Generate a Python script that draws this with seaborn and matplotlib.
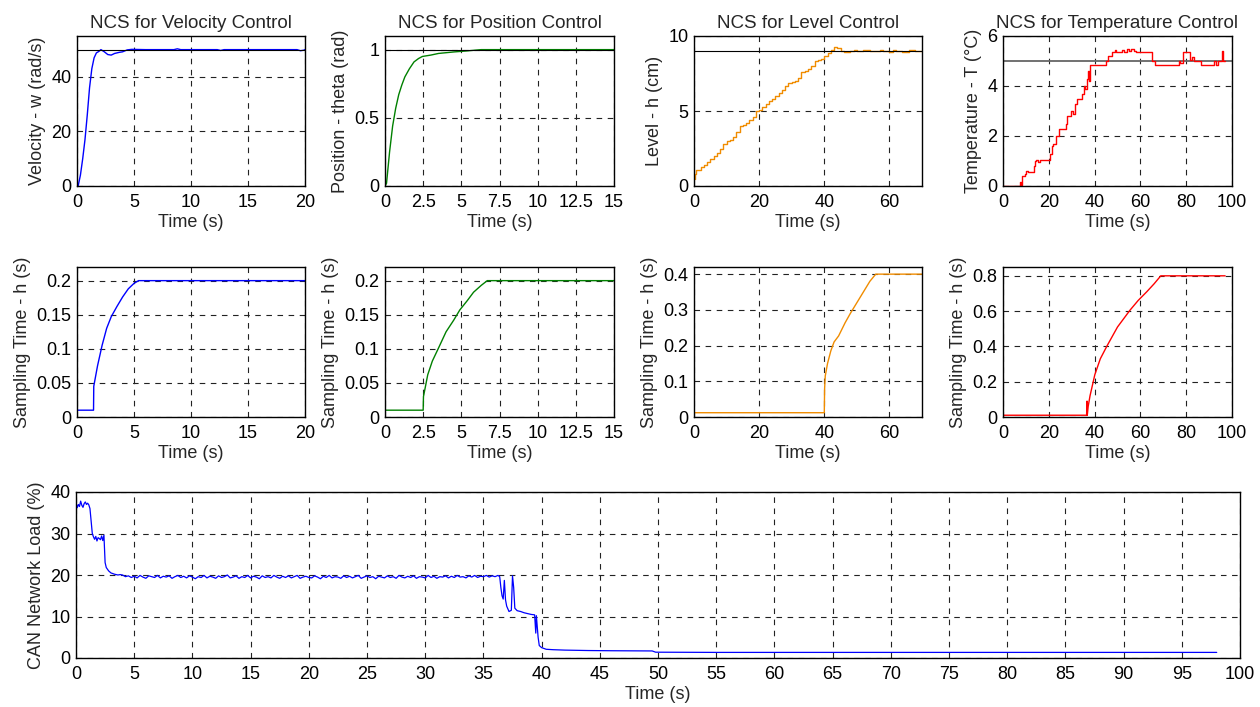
import numpy as np
import matplotlib
matplotlib.use("Agg")
import matplotlib.pyplot as plt
import seaborn as sns

# ---- velocity control ----
vel_t = [0, 0.1, 0.3, 0.5, 0.7, 0.9, 1.1, 1.3, 1.5, 1.7, 1.9, 2.1, 2.4, 2.7, 3.0, 3.3,
         3.7, 4.0, 4.4, 4.8, 6.0, 8.5, 8.8, 9.1, 10.0, 12.3, 12.6, 12.9, 15.0, 17.0,
         19.3, 19.6, 19.9, 20.0]
vel_w = [0, 0, 4, 10, 17, 26, 36, 43, 47, 48.8, 49.3, 50, 49.2, 48.2, 48.0, 48.6,
         49.0, 49.2, 49.9, 50.1, 50, 50, 50.3, 50, 50, 50, 49.7, 50, 50, 50,
         50, 49.6, 49.8, 50]
vel_h_t = [0, 1.45, 1.47, 1.8, 2.2, 2.6, 3.0, 3.5, 4.0, 4.5, 5.0, 5.4, 20]
vel_h = [0.01, 0.01, 0.045, 0.075, 0.105, 0.13, 0.147, 0.162, 0.176, 0.188, 0.196, 0.2, 0.2]

# ---- position control ----
pos_t = [0, 0.1, 0.3, 0.5, 0.7, 0.9, 1.1, 1.3, 1.6, 1.9, 2.2, 2.45, 3.0, 3.5, 4.5, 5.3, 6.3, 15]
pos_th = [0, 0.02, 0.25, 0.44, 0.57, 0.67, 0.74, 0.8, 0.86, 0.91, 0.935, 0.95, 0.96,
          0.972, 0.983, 0.99, 1.0, 1.0]
pos_h_t = [0, 2.5, 2.52, 2.8, 3.1, 3.46, 4.0, 4.5, 4.9, 5.4, 5.8, 6.3, 6.7, 15]
pos_h = [0.01, 0.01, 0.03, 0.062, 0.082, 0.099, 0.125, 0.142, 0.157, 0.171, 0.183, 0.193, 0.2, 0.2]

# ---- level control ----
lvl_t = [0, 0.3, 0.6, 1, 2] + list(range(3, 43)) + [43, 44, 45, 46, 48, 49, 50, 52, 53, 54,
                                                       56, 57, 58, 60, 61, 62, 64, 66, 67, 68, 70]
lvl_h = [0.5, 0.8, 1.1, 1.1, 1.3,
         1.4, 1.6, 1.8, 2.0, 2.2, 2.5, 2.8, 3.0, 3.1, 3.3, 3.6, 4.0, 4.1, 4.2, 4.4, 4.6,
         5.0, 5.05, 5.3, 5.5, 5.7, 5.8, 6.0, 6.2, 6.4, 6.7, 6.9, 6.95, 7.0, 7.2, 7.6, 7.7,
         7.8, 8.0, 8.3, 8.4, 8.5, 8.7, 8.9, 9.1,
         9.3, 9.2, 9.0, 8.95, 9.0, 9.1, 9.0, 9.05, 9.1, 9.0, 9.0, 9.1, 9.0, 8.95, 9.1, 9.0,
         8.95, 9.05, 9.1, 9.0, 9.0]
lvl_s_t = [0, 40.0, 40.1, 40.3, 41.0, 42.0, 43.0, 44.4, 46.4, 48.0, 50.0, 52.0, 54.0, 55.8, 70]
lvl_s = [0.012, 0.012, 0.08, 0.115, 0.15, 0.185, 0.21, 0.227, 0.264, 0.29, 0.32, 0.35, 0.38, 0.4, 0.4]

# ---- temperature control ----
temp_t = [0, 7.5, 8.0, 8.5, 9.5, 10.2, 11.0, 13.5, 14.0, 14.6, 15.5, 16.0, 20.5, 21.2, 22.0,
          23.0, 24.5, 27.5, 28.0, 29.5, 30.5, 31.5, 32.5, 34.5, 35.2, 35.8, 36.5, 37.0, 37.5,
          38.2, 45.0, 46.0, 47.5, 49.0, 49.5, 52.0, 53.0, 54.0, 55.0, 56.0, 57.0, 58.0, 65.0,
          66.5, 77.0, 77.5, 78.5, 81.5, 82.5, 83.5, 85.0, 86.5, 92.0, 93.0, 94.0, 95.5, 96.0, 97.0]
temp_T = [0, 0.15, 0.05, 0.4, 0.5, 0.6, 0.55, 0.8, 1.0, 1.05, 0.95, 1.05, 1.3, 1.6, 1.7,
          2.0, 2.3, 2.5, 2.8, 3.0, 2.9, 3.3, 3.5, 3.7, 4.0, 3.9, 4.3, 4.6, 4.2,
          4.85, 5.0, 5.2, 5.35, 5.45, 5.35, 5.45, 5.35, 5.5, 5.4, 5.5, 5.4, 5.35, 5.0,
          4.85, 5.0, 4.9, 5.35, 5.05, 5.15, 5.0, 5.0, 4.85, 5.0, 4.85, 5.0, 5.4, 5.0, 5.0]
temp_s_t = [0, 36.5, 36.7, 36.8, 37.2, 38.0, 40.1, 42.5, 45.3, 50.0, 55.5, 59.0, 62.8, 66.0, 68.9, 97]
temp_s = [0.01, 0.01, 0.09, 0.01, 0.06, 0.12, 0.24, 0.33, 0.4, 0.51, 0.606, 0.66, 0.71, 0.755, 0.8, 0.8]

# ---- CAN network load ----
can_head_t = [0, 0.1, 0.2, 0.3, 0.4, 0.5, 0.6, 0.7, 0.8, 0.9, 1.0, 1.1, 1.2, 1.3, 1.4, 1.5,
              1.6, 1.7, 1.8, 1.9, 2.0, 2.1, 2.2, 2.3, 2.4, 2.5, 2.6, 2.8, 3.0, 3.3, 3.6, 3.8]
can_head = [37.5, 36.2, 37.0, 36.5, 37.8, 36.8, 36.3, 37.2, 37.6, 37.0, 37.3, 36.9, 36.0,
            33.0, 30.0, 29.2, 28.6, 29.3, 28.2, 29.0, 28.8, 28.5, 29.4, 28.3, 29.6, 23.0,
            21.8, 21.0, 20.5, 20.2, 20.0, 20.1]
can_mid = [20.0, 19.6, 19.8, 19.4, 19.7, 19.3, 19.9, 19.5, 19.2, 19.8, 19.6, 19.4, 19.9,
           19.3, 19.7, 19.5, 19.8, 19.2, 19.6, 19.9, 19.4, 19.7, 19.3, 19.8, 19.5, 19.1,
           19.6, 19.4, 19.9, 19.3, 19.7, 19.5, 19.2, 19.8, 19.4, 19.6, 20.0, 19.3, 19.5,
           19.8, 19.2, 19.6, 19.4, 19.9, 19.3, 19.7, 19.5, 19.1, 19.8, 19.4, 19.6, 19.3,
           19.9, 19.5, 19.2, 19.7, 19.4, 19.8, 19.3, 19.6, 19.9, 19.2, 19.5, 19.7, 19.4,
           19.3, 19.8, 19.5, 19.1, 19.7, 19.4, 19.9, 19.3, 19.6, 19.5, 19.2, 19.8, 19.4,
           19.7, 19.3, 19.6, 19.9, 19.2, 19.5, 19.8, 19.4, 19.6, 19.1, 19.7, 19.5, 19.3,
           19.8, 19.4, 19.6, 19.2, 19.9, 19.5, 19.3, 19.7, 19.4, 19.8, 19.2, 19.6, 19.5,
           19.3, 19.9, 19.4, 19.7, 19.2, 19.6, 19.5, 19.8, 19.3, 19.7, 19.4, 19.9, 19.5,
           19.6, 19.3, 19.8, 19.5, 19.9, 19.4, 19.7, 19.6, 19.9, 19.5, 19.8, 19.6, 19.9]
can_mid_t = list(np.arange(4.0, 36.3, 0.25))
can_tail_t = [36.4, 36.5, 36.6, 36.7, 36.8, 36.9, 37.0, 37.2, 37.4, 37.5, 37.6, 37.7, 37.9,
              38.2, 38.5, 38.8, 39.1, 39.4, 39.5, 39.55, 39.7, 39.8, 40.0, 40.4, 41.0, 42.0,
              44.0, 46.0, 49.5, 49.8, 55.0, 98.0]
can_tail = [19.6, 17.0, 15.0, 14.2, 18.7, 14.0, 12.5, 11.2, 11.5, 19.8, 17.0, 12.0, 11.4,
            11.2, 10.9, 10.7, 10.5, 10.4, 6.0, 10.2, 5.0, 3.0, 2.5, 2.1, 2.0, 1.9,
            1.8, 1.75, 1.7, 1.4, 1.35, 1.35]

sns.set_theme(style="white")
plt.rcParams['font.family'] = ['Liberation Sans', 'DejaVu Sans']
plt.rcParams['font.size'] = 12

BLUE, GREEN, ORANGE, RED = '#0000ff', '#008000', '#f08c00', '#ff0000'
W, H = 1260, 707
fig = plt.figure(figsize=(12.6, 7.07), dpi=100)


def make_ax(x0, x1, y0, y1):
    return fig.add_axes([x0 / W, (H - y1) / H, (x1 - x0) / W, (y1 - y0) / H])


def style(ax, xlim, xticks, ylim, yticks, ylabel, xlabels=None, ylabels=None):
    ax.set_xlim(*xlim)
    ax.set_ylim(*ylim)
    ax.set_xticks(xticks)
    ax.set_yticks(yticks)
    if xlabels:
        ax.set_xticklabels(xlabels)
    if ylabels:
        ax.set_yticklabels(ylabels)
    ax.grid(True, color='#222222', linestyle=(0, (5, 5)), linewidth=0.8)
    for s in ax.spines.values():
        s.set_color('black')
        s.set_linewidth(1.0)
    ax.tick_params(direction='in', length=3, width=0.8, colors='black', labelsize=13, pad=4)
    ax.tick_params(axis='x', pad=6)
    ax.set_xlabel('Time (s)', fontsize=13, labelpad=2)
    ax.set_ylabel(ylabel, fontsize=13, labelpad=4)


cols = [(77, 305), (385, 614), (694, 922), (1003, 1232)]

# top row
a1 = make_ax(*cols[0], 36, 186)
sns.lineplot(x=vel_t, y=vel_w, ax=a1, color=BLUE, lw=1, estimator=None, sort=False)
a1.axhline(50, color='black', lw=0.8)
style(a1, (0, 20), [0, 5, 10, 15, 20], (0, 55), [0, 20, 40], 'Velocity - w (rad/s)')
a1.set_title('NCS for Velocity Control', fontsize=13.5, pad=6)

a2 = make_ax(*cols[1], 36, 186)
sns.lineplot(x=pos_t, y=pos_th, ax=a2, color=GREEN, lw=1, estimator=None, sort=False)
a2.axhline(1, color='black', lw=0.8)
style(a2, (0, 15), [0, 2.5, 5, 7.5, 10, 12.5, 15], (0, 1.1), [0, 0.5, 1], 'Position - theta (rad)',
      xlabels=['0', '2.5', '5', '7.5', '10', '12.5', '15'], ylabels=['0', '0.5', '1'])
a2.set_title('NCS for Position Control', fontsize=13.5, pad=6)

a3 = make_ax(*cols[2], 36, 186)
sns.lineplot(x=lvl_t, y=lvl_h, ax=a3, color=ORANGE, lw=1, estimator=None, sort=False,
             drawstyle='steps-post')
a3.axhline(9, color='black', lw=0.8)
style(a3, (0, 70), [0, 20, 40, 60], (0, 10), [0, 5, 10], 'Level - h (cm)')
a3.set_title('NCS for Level Control', fontsize=13.5, pad=6)

a4 = make_ax(*cols[3], 36, 186)
a4.axhline(5, color='#666666', lw=1.3)
sns.lineplot(x=temp_t, y=temp_T, ax=a4, color=RED, lw=1, estimator=None, sort=False,
             drawstyle='steps-post')
style(a4, (0, 100), [0, 20, 40, 60, 80, 100], (0, 6), [0, 2, 4, 6], 'Temperature - T (°C)')
a4.set_title('NCS for Temperature Control', fontsize=13.5, pad=6)

# middle row
b1 = make_ax(*cols[0], 267, 417)
sns.lineplot(x=vel_h_t, y=vel_h, ax=b1, color=BLUE, lw=1, estimator=None, sort=False)
style(b1, (0, 20), [0, 5, 10, 15, 20], (0, 0.22), [0, 0.05, 0.1, 0.15, 0.2],
      'Sampling Time - h (s)', ylabels=['0', '0.05', '0.1', '0.15', '0.2'])

b2 = make_ax(*cols[1], 267, 417)
sns.lineplot(x=pos_h_t, y=pos_h, ax=b2, color=GREEN, lw=1, estimator=None, sort=False)
style(b2, (0, 15), [0, 2.5, 5, 7.5, 10, 12.5, 15], (0, 0.22), [0, 0.05, 0.1, 0.15, 0.2],
      'Sampling Time - h (s)', xlabels=['0', '2.5', '5', '7.5', '10', '12.5', '15'],
      ylabels=['0', '0.05', '0.1', '0.15', '0.2'])

b3 = make_ax(*cols[2], 267, 417)
sns.lineplot(x=lvl_s_t, y=lvl_s, ax=b3, color=ORANGE, lw=1, estimator=None, sort=False)
style(b3, (0, 70), [0, 20, 40, 60], (0, 0.42), [0, 0.1, 0.2, 0.3, 0.4],
      'Sampling Time - h (s)', ylabels=['0', '0.1', '0.2', '0.3', '0.4'])

b4 = make_ax(*cols[3], 267, 417)
sns.lineplot(x=temp_s_t, y=temp_s, ax=b4, color=RED, lw=1, estimator=None, sort=False)
style(b4, (0, 100), [0, 20, 40, 60, 80, 100], (0, 0.85), [0, 0.2, 0.4, 0.6, 0.8],
      'Sampling Time - h (s)', ylabels=['0', '0.2', '0.4', '0.6', '0.8'])

# bottom: network load
c = make_ax(76, 1240, 492, 658)
can_t = can_head_t + can_mid_t + can_tail_t
can_load = can_head + can_mid + can_tail
sns.lineplot(x=can_t, y=can_load, ax=c, color=BLUE, lw=0.9, estimator=None, sort=False)
style(c, (0, 100), list(range(0, 101, 5)), (0, 40), [0, 10, 20, 30, 40], 'CAN Network Load (%)')

fig.savefig('out.png', dpi=100)
